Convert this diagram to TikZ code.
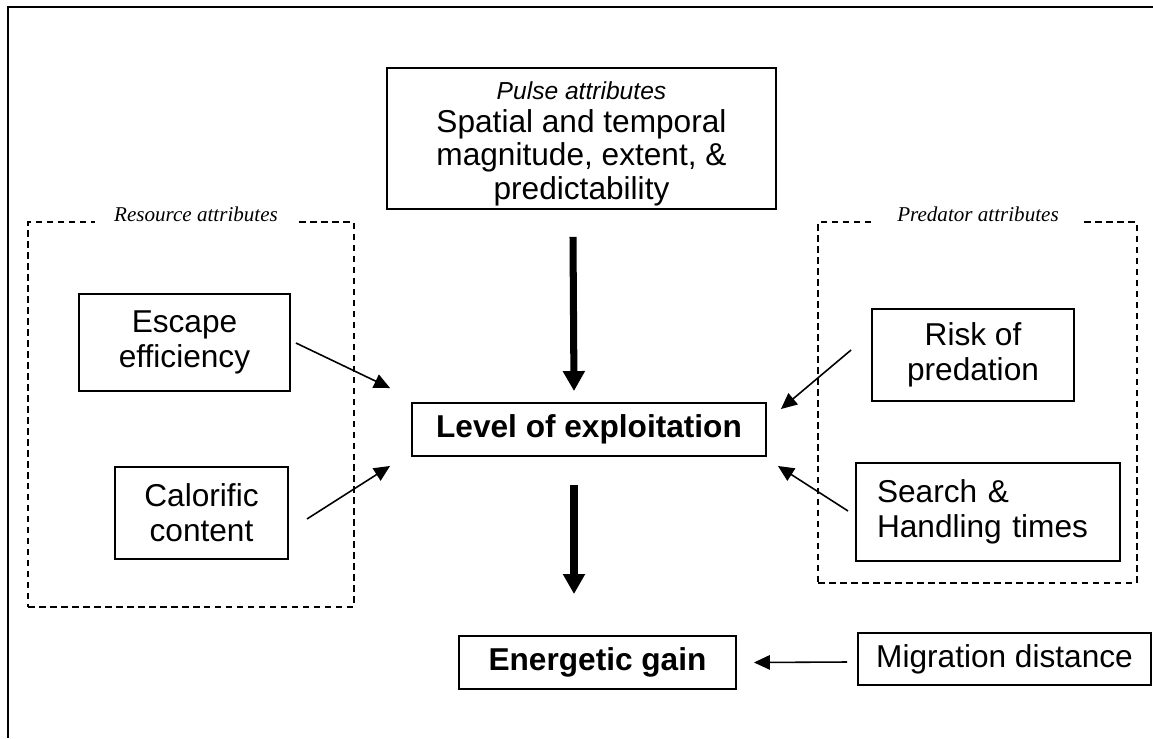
\documentclass[tikz,border=0pt]{standalone}
\usepackage{fontspec}
\setmainfont{Liberation Sans}
\newfontfamily\labelfont{Liberation Serif}
\usetikzlibrary{arrows.meta}
\tikzstyle{attrbox} = [rectangle, draw, line width=1.1pt, align=center, inner sep=0pt, font=\fontsize{18}{20}\selectfont]
\tikzstyle{attrgroup} = [rectangle, draw, dash pattern=on 0.13cm off 0.09cm, line width=0.8pt, inner sep=0pt]
\tikzstyle{grouplabel} = [fill=white, anchor=base, inner xsep=0pt, inner ysep=3pt, font=\fontsize{12}{14}\selectfont\labelfont\itshape]
\tikzstyle{arrow} = [line width=0.9pt, -{Triangle[length=0.32cm,width=0.29cm]}]
\tikzstyle{bigarrow} = [line width=4pt, -{Triangle[length=0.4cm,width=0.42cm]}]

\begin{document}
\begin{tikzpicture}[x=0.02cm, y=-0.02cm]
\useasboundingbox (0,0) rectangle (1153,738);

% Cadre
\draw[line width=1.2pt] (8,738) -- (8,7) -- (1153,7);

% Groupes
\node (resgrp) [attrgroup, minimum width=6.52cm, minimum height=7.7cm] at (191,414.5) {};
\node (predgrp) [attrgroup, minimum width=6.38cm, minimum height=7.22cm] at (977.5,402.5) {};
\node (reslbl) [grouplabel, minimum width=4.04cm] at (196,221) {Resource attributes};
\node (predlbl) [grouplabel, minimum width=4.2cm] at (978,221) {Predator attributes};

% Boites
\node (pulse) [attrbox, minimum width=7.78cm, minimum height=2.82cm, font=\fontsize{18}{19}\selectfont] at (581.5,138.5) {
    \rule{0pt}{16pt}{\fontsize{14}{16}\selectfont\itshape Pulse attributes}\\
    Spatial and temporal\\
    magnitude, extent, \&\\
    predictability
};
\node (level) [attrbox, minimum width=7.08cm, minimum height=1.06cm, font=\fontsize{18}{20}\selectfont\bfseries] at (589,429.5) {Level of exploitation};
\node (gain) [attrbox, minimum width=5.54cm, minimum height=1.06cm, font=\fontsize{18}{20}\selectfont\bfseries] at (597.5,662.5) {Energetic gain};
\node (migr) [attrbox, minimum width=5.86cm, minimum height=1.04cm] at (1004.5,659) {Migration distance};
\node (escape) [attrbox, minimum width=4.22cm, minimum height=1.94cm] at (184.5,342.5) {Escape\\efficiency};
\node (calor) [attrbox, minimum width=3.46cm, minimum height=1.84cm] at (201.5,513) {Calorific\\content};
\node (risk) [attrbox, minimum width=4.04cm, minimum height=1.84cm] at (973,355) {Risk of\\predation};
\node (search) [attrbox, align=left, text width=4.44cm, inner xsep=0.42cm, minimum height=1.96cm] at (988,512) {Search \&\\Handling times};

% Relations
\draw [bigarrow] ([shift={(-8.5,27)}]pulse.south) -- ([shift={(-15,-11)}]level.north);
\draw [bigarrow] ([shift={(-15,28)}]level.south) -- ([shift={(-23.5,-41)}]gain.north);
\draw [arrow] ([shift={(5,0.5)}]escape.east) -- ([shift={(-21,-14)}]level.north west);
\draw [arrow] ([shift={(18,6)}]calor.east) -- ([shift={(-21,9)}]level.south west);
\draw [arrow] ([shift={(-20,-5)}]risk.west) -- ([shift={(14,7)}]level.north east);
\draw [arrow] ([shift={(-7,-1)}]search.west) -- ([shift={(11,9)}]level.south east);
\draw [arrow] ([shift={(-10,3)}]migr.west) -- ([shift={(17,0)}]gain.east);

\end{tikzpicture}
\end{document}
